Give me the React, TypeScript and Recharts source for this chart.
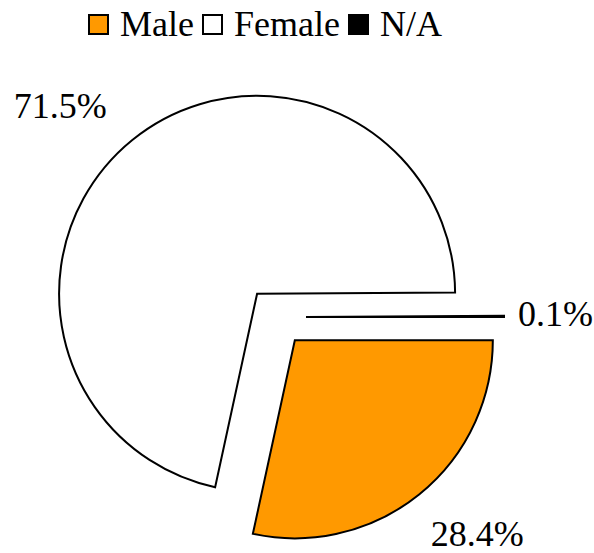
import { PieChart, Pie, Sector, Legend, Cell } from "recharts";

document.body.style.margin = "0";

const categories = ["Male", "Female", "N/A"];
const shares = [28.4, 71.5, 0.1];
const colors = ["#FF9900", "#FFFFFF", "#000000"];

const RADIAN = Math.PI / 180;
const EXPLODE = 30;
const FONT = "Liberation Serif";

const data = categories.map((name, i) => ({ name, value: shares[i] }));

// every slice is pulled out of the centre along its own mid angle
function ExplodedSector(props: any) {
  const { cx, cy, startAngle, endAngle, innerRadius, outerRadius, fill } = props;
  const mid = (startAngle + endAngle) / 2;
  const dx = EXPLODE * Math.cos(-mid * RADIAN);
  const dy = EXPLODE * Math.sin(-mid * RADIAN);
  return (
    <Sector
      cx={cx + dx}
      cy={cy + dy}
      startAngle={startAngle}
      endAngle={endAngle}
      innerRadius={innerRadius}
      outerRadius={outerRadius}
      fill={fill}
      stroke="#000"
      strokeWidth={2}
    />
  );
}

function renderLabel(props: any) {
  const { cx, cy, midAngle, outerRadius, value } = props;
  const cos = Math.cos(-midAngle * RADIAN);
  const sin = Math.sin(-midAngle * RADIAN);
  const ox = cx + EXPLODE * cos;
  const oy = cy + EXPLODE * sin;
  const r = outerRadius + 14 + 20 * Math.abs(sin);
  const x = ox + r * cos - 9 * Math.abs(sin);
  const y = oy + r * sin;
  const anchor = cos > 0.3 ? "start" : cos < -0.3 ? "end" : "middle";
  const baseY = sin > 0.3 ? y + 28 : sin < -0.3 ? y + 1 : y + 10;
  return (
    <text x={x} y={baseY} textAnchor={anchor} style={{ fontFamily: FONT, fontSize: 36 }} fill="#000">
      {`${Number(value).toFixed(1)}%`}
    </text>
  );
}

function renderLegend() {
  return (
    <div style={{ height: 0, overflow: "visible" }}>
      <div
        style={{
          display: "flex",
          justifyContent: "center",
          alignItems: "center",
          height: 40,
          fontFamily: FONT,
          fontSize: 36,
          lineHeight: "40px",
          color: "#000",
        }}
      >
        {categories.map((c, i) => (
          <div key={c} style={{ display: "flex", alignItems: "center", marginRight: i < categories.length - 1 ? 8 : 0 }}>
            <span
              style={{
                display: "inline-block",
                width: 17,
                height: 17,
                background: colors[i],
                border: "2px solid #000",
                marginRight: 11,
              }}
            />
            <span>{c}</span>
          </div>
        ))}
      </div>
    </div>
  );
}

export default function App() {
  return (
    <div style={{ fontFamily: FONT }}>
      <PieChart width={594} height={553} margin={{ top: 0, right: 0, bottom: 0, left: 0 }}>
        <Legend verticalAlign="top" content={renderLegend} wrapperStyle={{ top: 4, left: 0, width: 530 }} />
        <Pie
          data={data}
          dataKey="value"
          nameKey="name"
          cx={276}
          cy={317}
          outerRadius={198}
          startAngle={0}
          endAngle={-360}
          shape={ExplodedSector}
          label={renderLabel}
          labelLine={false}
          isAnimationActive={false}
        >
          {data.map((d, i) => (
            <Cell key={d.name} fill={colors[i]} />
          ))}
        </Pie>
      </PieChart>
    </div>
  );
}
